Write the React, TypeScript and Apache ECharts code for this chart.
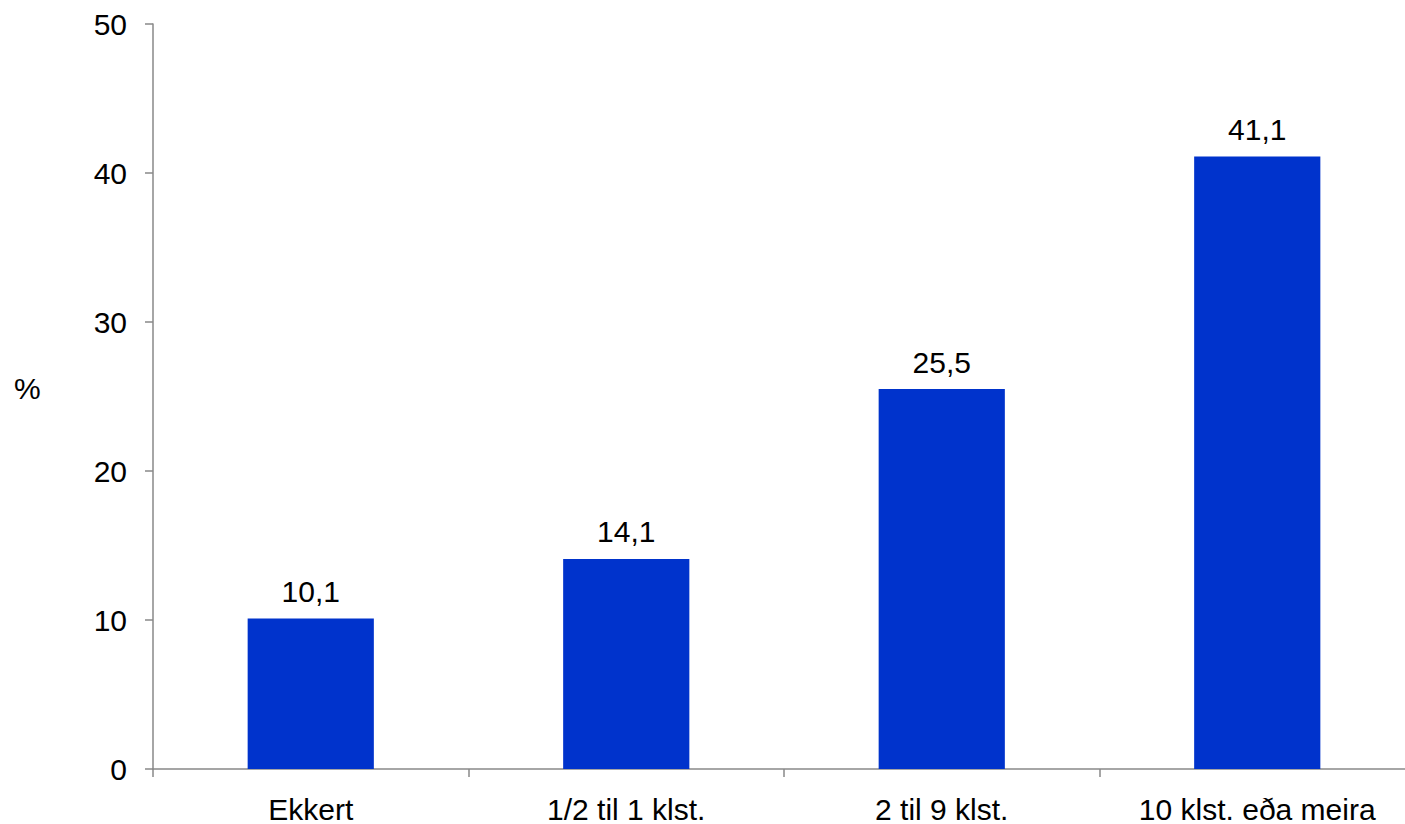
import React, { useEffect, useRef } from "react";
import * as echarts from "echarts";

const categories = ["Ekkert", "1/2 til 1 klst.", "2 til 9 klst.", "10 klst. eða meira"];
const values = [10.1, 14.1, 25.5, 41.1];
const yTicks = { min: 0, max: 50, interval: 10 };
const yName = "%";

export default function App() {
  const ref = useRef<HTMLDivElement>(null);
  useEffect(() => {
    document.body.style.margin = "0";
    document.body.style.overflow = "hidden";
    const chart = echarts.init(ref.current!, null, { renderer: "svg" });
    const font = "Liberation Sans, Arial, sans-serif";
    chart.setOption({
      animation: false,
      backgroundColor: "#ffffff",
      grid: { left: 153, right: 0, top: 24, bottom: 55, containLabel: false },
      graphic: [
        {
          type: "text",
          left: 14,
          top: 373,
          style: { text: yName, fontSize: 30, fontFamily: font, fill: "#000" },
        },
      ],
      xAxis: {
        type: "category",
        data: categories,
        boundaryGap: true,
        axisLine: { lineStyle: { color: "#888888", width: 1.5 } },
        axisTick: { show: true, length: 8, alignWithLabel: false, lineStyle: { color: "#888888", width: 1.5 } },
        axisLabel: { color: "#000", fontSize: 30, fontFamily: font, margin: 25, interval: 0 },
        splitLine: { show: false },
      },
      yAxis: {
        type: "value",
        min: yTicks.min,
        max: yTicks.max,
        interval: yTicks.interval,
        axisLine: { show: true, lineStyle: { color: "#888888", width: 1.5 } },
        axisTick: { show: true, length: 8, lineStyle: { color: "#888888", width: 1.5 } },
        axisLabel: { color: "#000", fontSize: 30, fontFamily: font, margin: 26 },
        splitLine: { show: false },
      },
      series: [
        {
          type: "bar",
          data: values,
          barWidth: "40%",
          itemStyle: { color: "#0033CC" },
          label: {
            show: true,
            position: "top",
            distance: 12,
            color: "#000",
            fontSize: 30,
            fontFamily: font,
            formatter: (p: any) => String(p.value.toFixed(1)).replace(".", ","),
          },
        },
      ],
    });
    return () => chart.dispose();
  }, []);
  return <div ref={ref} style={{ width: 1415, height: 824 }} />;
}
